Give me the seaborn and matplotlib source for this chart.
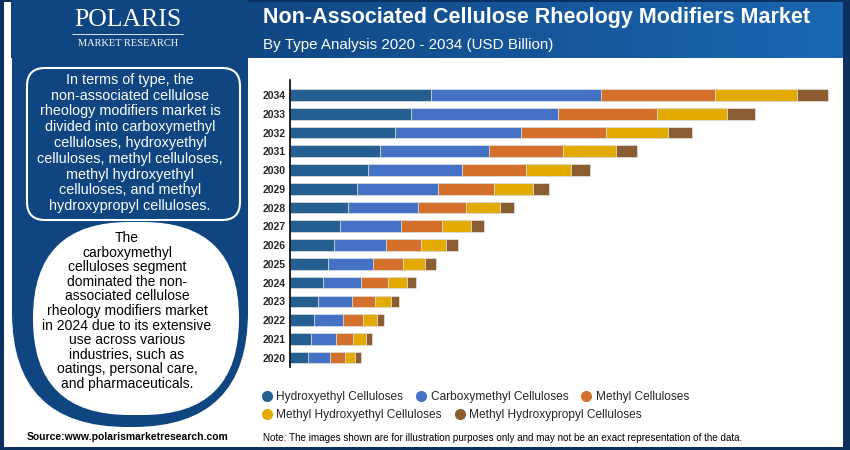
import numpy as np
import pandas as pd
import matplotlib
matplotlib.use("Agg")
import matplotlib.pyplot as plt
import seaborn as sns
from matplotlib.patches import FancyBboxPatch, Rectangle
from matplotlib.lines import Line2D
from matplotlib.colors import LinearSegmentedColormap

# data (USD Billion)
years = [str(y) for y in range(2020, 2035)]
hydroxyethyl = [0.18, 0.21, 0.24, 0.28, 0.33, 0.38, 0.44, 0.50, 0.58, 0.67, 0.78, 0.90, 1.05, 1.21, 1.41]
carboxymethyl = [0.22, 0.25, 0.29, 0.34, 0.38, 0.45, 0.52, 0.61, 0.70, 0.81, 0.94, 1.09, 1.26, 1.47, 1.70]
methyl = [0.15, 0.17, 0.20, 0.23, 0.27, 0.30, 0.35, 0.41, 0.48, 0.56, 0.64, 0.74, 0.85, 0.99, 1.14]
methyl_hydroxyethyl = [0.10, 0.13, 0.14, 0.16, 0.19, 0.22, 0.25, 0.29, 0.34, 0.39, 0.45, 0.53, 0.62, 0.70, 0.82]
methyl_hydroxypropyl = [0.06, 0.06, 0.07, 0.08, 0.09, 0.11, 0.12, 0.13, 0.14, 0.16, 0.19, 0.21, 0.24, 0.28, 0.31]

segments = ["Hydroxyethyl Celluloses", "Carboxymethyl Celluloses", "Methyl Celluloses",
            "Methyl Hydroxyethyl Celluloses", "Methyl Hydroxypropyl Celluloses"]
colors = ["#255e91", "#4472c4", "#d4702c", "#e3aa00", "#8b5d31"]

title = "Non-Associated Cellulose Rheology Modifiers Market"
subtitle = "By Type Analysis 2020 - 2034 (USD Billion)"
box_text = ("In terms of type, the\nnon-associated cellulose\nrheology modifiers market is\n"
            "divided into carboxymethyl\ncelluloses, hydroxyethyl\ncelluloses, methyl celluloses,\n"
            "methyl hydroxyethyl\ncelluloses, and methyl\nhydroxypropyl celluloses.")
circle_text = ("The\ncarboxymethyl\ncelluloses segment\ndominated the non-\nassociated cellulose\n"
               "rheology modifiers market\nin 2024 due to its extensive\nuse across various\n"
               "industries, such as\noatings, personal care,\nand pharmaceuticals.")
source = "Source:www.polarismarketresearch.com"
note = "Note: The images shown are for illustration purposes only and may not be an exact representation of the data."

# long table with cumulative ends for stacking
values = np.array([hydroxyethyl, carboxymethyl, methyl, methyl_hydroxyethyl, methyl_hydroxypropyl])
cum = values.cumsum(axis=0)
rows = []
for i, seg in enumerate(segments):
    for j, yr in enumerate(years):
        rows.append({"year": yr, "segment": seg, "end": cum[i, j]})
df = pd.DataFrame(rows)

sns.set_theme(style="white")
plt.rcParams["font.family"] = ["Liberation Sans", "DejaVu Sans"]

fig = plt.figure(figsize=(8.5, 4.5), dpi=100)

# background drawing in pixel coordinates
bg = fig.add_axes([0, 0, 1, 1])
bg.set_xlim(0, 850)
bg.set_ylim(450, 0)
bg.axis("off")
bg.add_patch(Rectangle((0, 0), 850, 450, fc="#0b2f5e", ec="none"))
bg.add_patch(Rectangle((4, 2), 839, 445, fc="white", ec="none"))
grad = np.linspace(0, 1, 256).reshape(1, -1)
cmap = LinearSegmentedColormap.from_list("hdr", ["#0d3a70", "#1a67b2"])
bg.imshow(grad, extent=[11, 843, 58, 2], cmap=cmap, aspect="auto", zorder=1)
bg.add_patch(FancyBboxPatch((12, -300), 236, 727, boxstyle="round,pad=0,rounding_size=115",
                            fc="#0f4580", ec="none", zorder=2))
bg.add_patch(FancyBboxPatch((27, 68), 213, 152, boxstyle="round,pad=0,rounding_size=18",
                            fc="none", ec="white", lw=1.5, zorder=3))
bg.add_patch(FancyBboxPatch((33, 222), 206, 193, boxstyle="round,pad=0,rounding_size=96",
                            fc="white", ec="none", zorder=3))

bg.text(128, 20, "POLARIS", color="white", fontsize=18.5, family=["Liberation Serif", "DejaVu Serif"],
        ha="center", va="center", zorder=4)
bg.plot([72, 183], [34, 34], color="white", lw=0.6, zorder=4)
bg.text(128, 44, "MARKET RESEARCH", color="white", fontsize=7.5, family=["Liberation Serif", "DejaVu Serif"],
        ha="center", va="center", zorder=4)
bg.text(263, 17, title, color="white", fontsize=15.5, fontweight="bold", ha="left", va="center", zorder=4)
bg.text(263, 45, subtitle, color="white", fontsize=10.9, ha="left", va="center", zorder=4)
bg.text(130, 143, box_text, color="white", fontsize=10.4, ha="center", va="center",
        linespacing=1.16, zorder=4)
bg.text(127, 311, circle_text, color="black", fontsize=10, ha="center", va="center",
        linespacing=1.05, zorder=4)
bg.text(128, 437, source, color="black", fontsize=7.5, fontweight="bold", ha="center", va="center", zorder=4)
bg.text(263, 438, note, color="black", fontsize=7.15, ha="left", va="center", zorder=4)

# chart
ax = fig.add_axes([290 / 850, 1 - 367 / 450, 550 / 850, 287 / 450])
ax.set_facecolor("none")
order = years[::-1]
for seg, col in zip(segments[::-1], colors[::-1]):
    sns.barplot(data=df[df["segment"] == seg], x="end", y="year", order=order, orient="h",
                color=col, width=0.62, edgecolor="#dcdcdc", linewidth=0.6, errorbar=None,
                saturation=1, ax=ax)
ax.set_xlim(0, 5.5)
ax.set_ylim(14.5, -0.8)
ax.set_xticks([])
ax.set_xlabel("")
ax.set_ylabel("")
for s in ["top", "right", "bottom"]:
    ax.spines[s].set_visible(False)
ax.spines["left"].set_color("black")
ax.spines["left"].set_linewidth(1.2)
ax.tick_params(axis="y", length=0, pad=3, labelsize=7.5)
for lbl in ax.get_yticklabels():
    lbl.set_fontweight("bold")

handles = [Line2D([], [], marker="o", ls="", color=c, markersize=7) for c in colors]
fig.legend(handles[:3], segments[:3], loc="center left", bbox_to_anchor=(262 / 850, 1 - 397 / 450),
           ncol=3, frameon=False, fontsize=8.6, handlelength=0.8, handletextpad=0.4,
           columnspacing=1.1, borderpad=0, borderaxespad=0)
fig.legend(handles[3:], segments[3:], loc="center left", bbox_to_anchor=(262 / 850, 1 - 415 / 450),
           ncol=2, frameon=False, fontsize=8.6, handlelength=0.8, handletextpad=0.4,
           columnspacing=1.1, borderpad=0, borderaxespad=0)

fig.savefig("out.png", dpi=100)
